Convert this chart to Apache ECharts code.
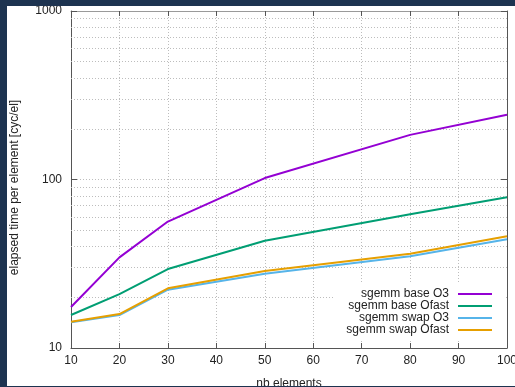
<!DOCTYPE html>
<html>
<head>
<meta charset="utf-8">
<script src="https://cdn.jsdelivr.net/npm/echarts@6/dist/echarts.min.js"></script>
<style>
  html, body { margin: 0; padding: 0; width: 515px; height: 387px; background: #1d3350; overflow: hidden; }
  #chart { position: absolute; left: 7px; top: 6px; width: 508px; height: 380px; background: #ffffff; overflow: hidden; }
</style>
</head>
<body>
<div id="chart"></div>
<script>
// Number of elements per run
const nbElements = [10, 20, 30, 50, 80, 100];

// Elapsed time per element [cyc/el] for each build
const sgemmBaseO3 = [17.5, 34.5, 56.3, 102, 184, 242];
const sgemmBaseOfast = [15.7, 20.9, 29.4, 43.3, 62.2, 78.4];
const sgemmSwapO3 = [14.2, 15.7, 22.2, 27.6, 35.0, 44.2];
const sgemmSwapOfast = [14.3, 15.9, 22.6, 28.6, 36.3, 46.0];

// Intermediate log-scale grid levels
const yMinorLevels = [20, 30, 40, 50, 60, 70, 80, 90, 200, 300, 400, 500, 600, 700, 800, 900];

const FONT = "'Liberation Sans', Arial, sans-serif";
const gridLine = { color: '#bdbdbd', width: 1, type: [1, 2] };
const frameColor = '#555555';

function pairs(ys) {
  return nbElements.map((x, i) => [x, ys[i]]);
}

function lineSeries(name, ys, color) {
  return {
    name: name,
    type: 'line',
    data: pairs(ys),
    symbol: 'none',
    showSymbol: false,
    animation: false,
    z: 3,
    lineStyle: { color: color, width: 2 },
    itemStyle: { color: color }
  };
}

const chart = echarts.init(document.getElementById('chart'), null, { renderer: 'canvas' });

const series = [
  lineSeries('sgemm base O3', sgemmBaseO3, '#9400d3'),
  lineSeries('sgemm base Ofast', sgemmBaseOfast, '#009e73'),
  lineSeries('sgemm swap O3', sgemmSwapO3, '#56b4e9'),
  lineSeries('sgemm swap Ofast', sgemmSwapOfast, '#e69f00')
];

// dotted minor grid across the plot
series[0].markLine = {
  silent: true,
  symbol: 'none',
  animation: false,
  label: { show: false },
  lineStyle: gridLine,
  z: 1,
  data: yMinorLevels.map(v => ({ yAxis: v }))
};

chart.setOption({
  animation: false,
  textStyle: { fontFamily: FONT },
  grid: { left: 64, top: 5, right: 8, bottom: 38, containLabel: false, outerBoundsMode: 'none' },
  legend: {
    orient: 'vertical',
    align: 'right',
    right: 9,
    top: 277,
    itemWidth: 34,
    itemHeight: 14,
    itemGap: 0,
    padding: [5, 13, 3, 12],
    backgroundColor: '#ffffff',
    selectedMode: false,
    itemStyle: { opacity: 0 },
    textStyle: { fontFamily: FONT, fontSize: 12, color: '#222222', padding: [0, 4, 0, 0] },
    data: series.map(s => s.name)
  },
  xAxis: [
    {
      type: 'value',
      min: 10,
      max: 100,
      interval: 10,
      position: 'bottom',
      name: 'nb elements',
      nameLocation: 'middle',
      nameGap: 30,
      nameTextStyle: { fontFamily: FONT, fontSize: 12, color: '#222222' },
      axisLine: { show: true, lineStyle: { color: frameColor, width: 1 } },
      axisTick: { show: true, inside: true, length: 5, lineStyle: { color: frameColor } },
      axisLabel: { margin: 7, fontFamily: FONT, fontSize: 12, color: '#222222' },
      splitLine: { show: true, lineStyle: gridLine }
    },
    {
      type: 'value',
      min: 10,
      max: 100,
      interval: 10,
      position: 'top',
      axisLine: { show: true, lineStyle: { color: '#9a9a9a', width: 1 } },
      axisTick: { show: true, inside: true, length: 5, lineStyle: { color: frameColor } },
      axisLabel: { show: false },
      splitLine: { show: false }
    }
  ],
  yAxis: [
    {
      type: 'log',
      logBase: 10,
      min: 10,
      max: 1000,
      position: 'left',
      name: 'elapsed time per element [cyc/el]',
      nameLocation: 'middle',
      nameRotate: 90,
      nameGap: 50,
      nameTextStyle: { fontFamily: FONT, fontSize: 12, color: '#222222', padding: [0, 16, 0, 0] },
      axisLine: { show: true, lineStyle: { color: frameColor, width: 1 } },
      axisTick: { show: true, inside: true, length: 6, lineStyle: { color: frameColor } },
      axisLabel: { margin: 9, fontFamily: FONT, fontSize: 12, color: '#222222', formatter: v => String(v) },
      splitLine: { show: true, lineStyle: gridLine }
    },
    {
      type: 'log',
      logBase: 10,
      min: 10,
      max: 1000,
      position: 'right',
      axisLine: { show: true, lineStyle: { color: frameColor, width: 1 } },
      axisTick: { show: true, inside: true, length: 6, lineStyle: { color: frameColor } },
      axisLabel: { show: false },
      splitLine: { show: false }
    }
  ],
  series: series
});
</script>
</body>
</html>
